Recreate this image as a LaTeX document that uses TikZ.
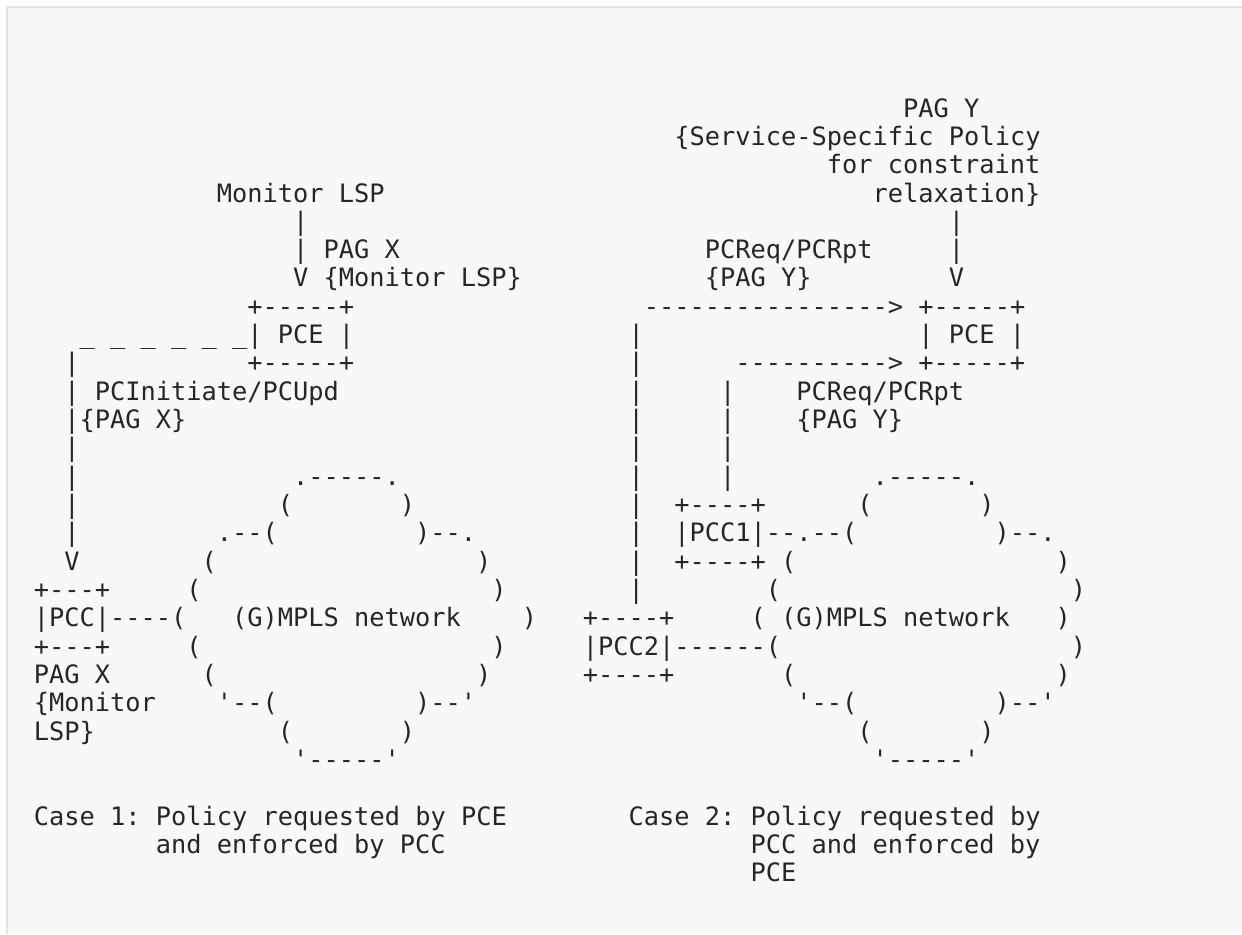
\documentclass[tikz,border=0pt]{standalone}
\usepackage{fontspec}
\setmonofont{DejaVu Sans Mono}
\usepackage{tikz}
\definecolor{ink}{HTML}{262626}
\definecolor{paper}{HTML}{F8F8F8}
\definecolor{rim}{HTML}{E4E4E4}

\begin{document}
\begin{tikzpicture}[x=7.625pt, y=-14.165pt]
\tikzstyle{ascii}=[anchor=base west, inner sep=0pt, outer sep=0pt, text=ink,
                   font=\ttfamily\fontsize{12.67}{14}\selectfont]
  % page and frame
  \useasboundingbox (-16.95pt,58.5pt) rectangle (604.05pt,-408.5pt);
  \fill[white] (-16.95pt,58.5pt) rectangle (604.05pt,-408.5pt);
  \fill[paper] (-13.45pt,55pt) rectangle (604.05pt,-408.5pt);
  \draw[rim, line width=1pt] (-13.45pt,-408.5pt) -- (-13.45pt,55pt) -- (604.05pt,55pt);

  % case 1 (left)
  \node[ascii] (a3)   at (12,3)  {Monitor LSP};
  \node[ascii] (a4)   at (17,4)  {|};
  \node[ascii] (a5)   at (17,5)  {| PAG X};
  \node[ascii] (a6)   at (17,6)  {V \{Monitor LSP\}};
  \node[ascii] (a7)   at (14,7)  {+-----+};
  \node[ascii] (a8)   at (3,8)   {\_ \_ \_ \_ \_ \_| PCE |};
  \node[ascii] (a9)   at (2,9)   {|};
  \node[ascii] (a9a)  at (14,9)  {+-----+};
  \node[ascii] (a10)  at (2,10)  {| PCInitiate/PCUpd};
  \node[ascii] (a11)  at (2,11)  {|\{PAG X\}};
  \node[ascii] (a12)  at (2,12)  {|};
  \node[ascii] (a13)  at (2,13)  {|};
  \node[ascii] (a13a) at (17,13) {.-----.};
  \node[ascii] (a14)  at (2,14)  {|};
  \node[ascii] (a14a) at (16,14) {(};
  \node[ascii] (a14b) at (24,14) {)};
  \node[ascii] (a15)  at (2,15)  {|};
  \node[ascii] (a15a) at (12,15) {.--(};
  \node[ascii] (a15b) at (25,15) {)--.};
  \node[ascii] (a16)  at (2,16)  {V};
  \node[ascii] (a16a) at (11,16) {(};
  \node[ascii] (a16b) at (29,16) {)};
  \node[ascii] (a17)  at (0,17)  {+---+};
  \node[ascii] (a17a) at (10,17) {(};
  \node[ascii] (a17b) at (30,17) {)};
  \node[ascii] (a18)  at (0,18)  {|PCC|----(};
  \node[ascii] (a18a) at (13,18) {(G)MPLS network};
  \node[ascii] (a18b) at (32,18) {)};
  \node[ascii] (a19)  at (0,19)  {+---+};
  \node[ascii] (a19a) at (10,19) {(};
  \node[ascii] (a19b) at (30,19) {)};
  \node[ascii] (a20)  at (0,20)  {PAG X};
  \node[ascii] (a20a) at (11,20) {(};
  \node[ascii] (a20b) at (29,20) {)};
  \node[ascii] (a21)  at (0,21)  {\{Monitor};
  \node[ascii] (a21a) at (12,21) {\textquotesingle--(};
  \node[ascii] (a21b) at (25,21) {)--\textquotesingle};
  \node[ascii] (a22)  at (0,22)  {LSP\}};
  \node[ascii] (a22a) at (16,22) {(};
  \node[ascii] (a22b) at (24,22) {)};
  \node[ascii] (a23)  at (17,23) {\textquotesingle-----\textquotesingle};
  \node[ascii] (a25)  at (0,25)  {Case 1: Policy requested by PCE};
  \node[ascii] (a26)  at (8,26)  {and enforced by PCC};

  % case 2 (right)
  \node[ascii] (b0)   at (57,0)  {PAG Y};
  \node[ascii] (b1)   at (42,1)  {\{Service-Specific Policy};
  \node[ascii] (b2)   at (52,2)  {for constraint};
  \node[ascii] (b3)   at (55,3)  {relaxation\}};
  \node[ascii] (b4)   at (60,4)  {|};
  \node[ascii] (b5)   at (44,5)  {PCReq/PCRpt};
  \node[ascii] (b5a)  at (60,5)  {|};
  \node[ascii] (b6)   at (44,6)  {\{PAG Y\}};
  \node[ascii] (b6a)  at (60,6)  {V};
  \node[ascii] (b7)   at (40,7)  {----------------> +-----+};
  \node[ascii] (b8)   at (39,8)  {|};
  \node[ascii] (b8a)  at (58,8)  {| PCE |};
  \node[ascii] (b9)   at (39,9)  {|};
  \node[ascii] (b9a)  at (46,9)  {----------> +-----+};
  \node[ascii] (b10)  at (39,10) {|};
  \node[ascii] (b10a) at (45,10) {|};
  \node[ascii] (b10b) at (50,10) {PCReq/PCRpt};
  \node[ascii] (b11)  at (39,11) {|};
  \node[ascii] (b11a) at (45,11) {|};
  \node[ascii] (b11b) at (50,11) {\{PAG Y\}};
  \node[ascii] (b12)  at (39,12) {|};
  \node[ascii] (b12a) at (45,12) {|};
  \node[ascii] (b13)  at (39,13) {|};
  \node[ascii] (b13a) at (45,13) {|};
  \node[ascii] (b13b) at (55,13) {.-----.};
  \node[ascii] (b14)  at (39,14) {|};
  \node[ascii] (b14a) at (42,14) {+----+};
  \node[ascii] (b14b) at (54,14) {(};
  \node[ascii] (b14c) at (62,14) {)};
  \node[ascii] (b15)  at (39,15) {|};
  \node[ascii] (b15a) at (42,15) {|PCC1|--.--(};
  \node[ascii] (b15b) at (63,15) {)--.};
  \node[ascii] (b16)  at (39,16) {|};
  \node[ascii] (b16a) at (42,16) {+----+ (};
  \node[ascii] (b16b) at (67,16) {)};
  \node[ascii] (b17)  at (39,17) {|};
  \node[ascii] (b17a) at (48,17) {(};
  \node[ascii] (b17b) at (68,17) {)};
  \node[ascii] (b18)  at (36,18) {+----+};
  \node[ascii] (b18a) at (47,18) {( (G)MPLS network};
  \node[ascii] (b18b) at (67,18) {)};
  \node[ascii] (b19)  at (36,19) {|PCC2|------(};
  \node[ascii] (b19a) at (68,19) {)};
  \node[ascii] (b20)  at (36,20) {+----+};
  \node[ascii] (b20a) at (49,20) {(};
  \node[ascii] (b20b) at (67,20) {)};
  \node[ascii] (b21)  at (50,21) {\textquotesingle--(};
  \node[ascii] (b21a) at (63,21) {)--\textquotesingle};
  \node[ascii] (b22)  at (54,22) {(};
  \node[ascii] (b22a) at (62,22) {)};
  \node[ascii] (b23)  at (55,23) {\textquotesingle-----\textquotesingle};
  \node[ascii] (b25)  at (39,25) {Case 2: Policy requested by};
  \node[ascii] (b26)  at (47,26) {PCC and enforced by};
  \node[ascii] (b27)  at (47,27) {PCE};
\end{tikzpicture}
\end{document}
